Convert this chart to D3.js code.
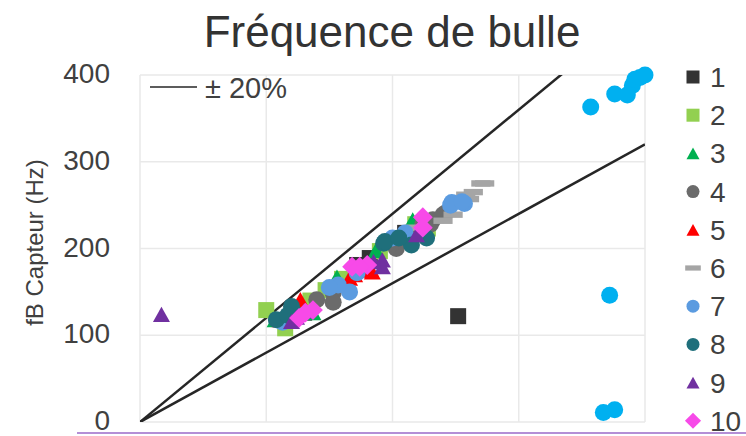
<!DOCTYPE html>
<html>
<head>
<meta charset="utf-8">
<script src="https://cdn.jsdelivr.net/npm/d3@7"></script>
<style>
  html, body { margin: 0; padding: 0; background: #fff; overflow: hidden; }
  svg { display: block; font-family: "Liberation Sans", Arial, sans-serif; }
</style>
</head>
<body>
<svg id="chart" width="746" height="436"></svg>
<script>
// Bubble frequency: reference (x) vs sensor (y), one array per test series
const seriesNames = ["1", "2", "3", "4", "5", "6", "7", "8", "9", "10", "11"];
const s1 = [[252,122],[182,189],[172,181],[130,126],[210,218]];
const s2 = [[100,129],[115,108],[135,140],[147,152],[160,165],[190,197],[218,228],[228,223]];
const s3 = [[107,118],[137,126],[156,167],[187,198],[216,233],[125,134]];
const s4 = [[140,141],[153,149],[153,138],[202,210],[203,200],[213,213],[232,233],[240,239],[242,241],[230,228],[200,206],[224,228]];
const s5 = [[127,141],[111,118],[166,166],[181,175],[184,173],[116,122],[170,170]];
const s6 = [[273,275],[264,265],[261,257],[248,239],[270,275],[258,262],[240,232],[218,224]];
const s7 = [[247,253],[257,252],[246,250],[255,254],[166,150],[157,158],[172,172],[200,212],[210,218],[113,115],[150,155]];
const s8 = [[120,133],[108,118],[193,206],[215,204],[227,212],[194,208],[205,212],[117,123]];
const s9 = [[17,124],[124,121],[192,187],[219,216],[192,179],[130,128],[185,185],[120,116]];
const s10 = [[168,179],[180,181],[131,126],[137,129],[224,236],[224,224],[174,179],[126,120]];
const s11 = [[357,363],[376,378],[386,377],[390,388],[392,395],[396,397],[400,400],[372,146],[367,11],[376,14]];
const seriesValues = [s1, s2, s3, s4, s5, s6, s7, s8, s9, s10, s11];
const seriesColors = ["#333333","#92d050","#00b050","#6b6b6b","#ff0000","#a5a5a5","#5b9be0","#1f6f7b","#7030a0","#f74ae8","#00b0f0"];
const seriesShapes = ["square","square","triangle","circle","triangle","dash","circle","circle","triangle","diamond","circle"];
const xTicks = [0, 100, 200, 300, 400];
const yTicks = [0, 100, 200, 300, 400];
const tolerance = [1.2, 0.8];

const svg = d3.select("#chart");
const plot = { left: 140, right: 645, top: 75, bottom: 422 };

const x = d3.scaleLinear().domain([0, 400]).range([plot.left, plot.right]);
const y = d3.scaleLinear().domain([0, 400]).range([plot.bottom, plot.top]);

// gridlines
const grid = svg.append("g").attr("stroke", "#e9e9e9").attr("stroke-width", 1.5);
grid.selectAll(".gx").data(xTicks).join("line")
  .attr("x1", d => x(d)).attr("x2", d => x(d))
  .attr("y1", plot.top).attr("y2", plot.bottom);
grid.selectAll(".gy").data(yTicks).join("line")
  .attr("x1", plot.left).attr("x2", plot.right)
  .attr("y1", d => y(d)).attr("y2", d => y(d));

// y axis labels
const yAxis = d3.axisLeft(y).tickValues(yTicks).tickSize(0).tickPadding(30);
svg.append("g").attr("transform", `translate(${plot.left},0)`).call(yAxis)
  .call(g => g.select(".domain").remove())
  .selectAll("text").attr("font-size", 28).attr("dy", "0.27em").attr("fill", "#404040")
  .attr("font-family", "Liberation Sans, Arial, sans-serif");

// axis title
svg.append("text")
  .attr("transform", `translate(43,${(plot.top + plot.bottom) / 2 - 6}) rotate(-90)`)
  .attr("text-anchor", "middle").attr("font-size", 24).attr("fill", "#404040")
  .text("fB Capteur (Hz)");

// chart title
svg.append("text").attr("x", 392).attr("y", 47).attr("text-anchor", "middle")
  .attr("font-size", 44).attr("fill", "#333").text("Fréquence de bulle");

// ±20% bounds through the origin
svg.append("defs").append("clipPath").attr("id", "plotclip")
  .append("rect").attr("x", plot.left).attr("y", plot.top)
  .attr("width", plot.right - plot.left).attr("height", plot.bottom - plot.top);
const lineGen = d3.line().x(d => x(d[0])).y(d => y(d[1]));
svg.append("g").attr("clip-path", "url(#plotclip)")
  .selectAll("path").data(tolerance).join("path")
  .attr("d", k => lineGen([[0, 0], [400, 400 * k]]))
  .attr("fill", "none").attr("stroke", "#262626").attr("stroke-width", 2.5);

// line key
svg.append("line").attr("x1", 150).attr("x2", 197).attr("y1", 87).attr("y2", 87)
  .attr("stroke", "#262626").attr("stroke-width", 1.5);
svg.append("text").attr("x", 205).attr("y", 98).attr("font-size", 29).attr("fill", "#404040")
  .text("± 20%");

// marker drawing
function drawMarker(sel, shape, color, s) {
  if (shape === "circle") {
    sel.append("circle").attr("r", s / 2).attr("fill", color);
  } else if (shape === "square") {
    sel.append("rect").attr("x", -s / 2).attr("y", -s / 2).attr("width", s).attr("height", s).attr("fill", color);
  } else if (shape === "triangle") {
    const h = s * 0.9;
    sel.append("path").attr("d", `M0,${-h / 2}L${s / 2},${h / 2}L${-s / 2},${h / 2}Z`).attr("fill", color);
  } else if (shape === "diamond") {
    const r = s * 0.62;
    sel.append("path").attr("d", `M0,${-r}L${r},0L0,${r}L${-r},0Z`).attr("fill", color);
  } else if (shape === "dash") {
    sel.append("rect").attr("x", -s * 0.6).attr("y", -s * 0.2).attr("width", s * 1.2).attr("height", s * 0.4).attr("fill", color);
  }
}

const markerSize = { circle: 17, square: 16, triangle: 17, diamond: 16, dash: 16 };
seriesValues.forEach((vals, i) => {
  const g = svg.append("g").attr("class", "series-" + seriesNames[i]);
  g.selectAll("g").data(vals).join("g")
    .attr("transform", d => `translate(${x(d[0])},${y(d[1])})`)
    .each(function () { drawMarker(d3.select(this), seriesShapes[i], seriesColors[i], markerSize[seriesShapes[i]]); });
});

// legend
const legend = svg.append("g");
const legendItems = legend.selectAll("g").data(seriesNames.slice(0, 10)).join("g")
  .attr("transform", (d, i) => `translate(693,${77 + i * 38.2})`);
legendItems.each(function (d, i) { drawMarker(d3.select(this), seriesShapes[i], seriesColors[i], 13); });
legendItems.append("text").attr("x", 17).attr("y", 10).attr("font-size", 28).attr("fill", "#404040").text(d => d);

// frame edge below the plot
svg.append("line").attr("x1", 77).attr("x2", 746).attr("y1", 433).attr("y2", 433)
  .attr("stroke", "#b48fd6").attr("stroke-width", 2);
</script>
</body>
</html>
